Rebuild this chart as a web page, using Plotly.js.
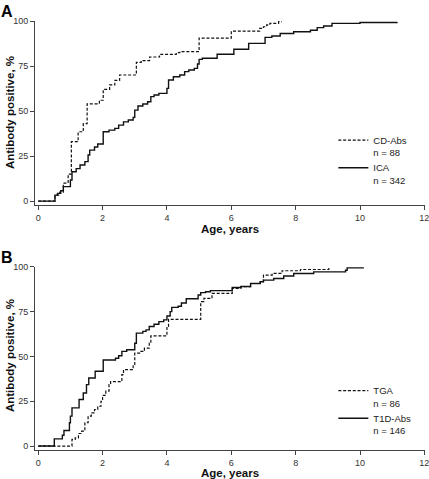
<!DOCTYPE html>
<html>
<head>
<meta charset="utf-8">
<script src="https://cdn.plot.ly/plotly-3.0.1.min.js"></script>
<style>html,body{margin:0;padding:0;background:#fff;}#chart{width:429px;height:479px;}</style>
</head>
<body>
<div id="chart"></div>
<script>
// Panel A: CD-Abs (dashed) vs ICA (solid)
var cdAbsAge = [0, 0.52, 0.67, 0.78, 0.93, 1.03, 1.24, 1.4, 1.52, 1.9, 2.02, 2.22, 2.38, 2.53, 3.05, 3.2, 3.46, 3.77, 4.29, 4.4, 5.0, 6.0, 6.88, 7.0, 7.1, 7.2, 7.47, 7.57];
var cdAbsPos = [0, 3.3, 5, 10, 15, 33, 38.5, 43, 54, 56, 62, 64.5, 67, 70, 77, 78, 80, 81.5, 82.4, 83, 90.5, 94.4, 95.9, 96.8, 97.8, 98.7, 99.6, 99.6];
var icaAge = [0, 0.52, 0.6, 0.7, 0.78, 1.0, 1.05, 1.18, 1.3, 1.45, 1.55, 1.6, 1.75, 1.85, 2.02, 2.2, 2.38, 2.5, 2.65, 2.8, 2.95, 3.0, 3.1, 3.25, 3.4, 3.5, 3.6, 3.75, 4.0, 4.05, 4.2, 4.4, 4.55, 4.68, 4.85, 4.95, 5.0, 5.1, 5.56, 6.08, 6.54, 7.05, 7.26, 7.52, 7.94, 8.46, 8.67, 8.87, 9.13, 10.0, 11.15];
var icaPos = [0, 3.3, 4.3, 5.7, 8, 11.7, 16.3, 18, 20, 21.9, 25.6, 28.3, 30, 31.7, 38.5, 39.4, 40.4, 42.2, 44, 45, 46.5, 50.5, 52.8, 53.9, 55.2, 58, 58.9, 59.8, 62.6, 67.2, 69, 70, 71.9, 72.8, 73.7, 76.1, 78.7, 79.3, 81.5, 84.3, 87.6, 90.9, 91.7, 93.1, 94, 94.9, 96.3, 97.2, 98.7, 99.2, 99.4];

// Panel B: TGA (dashed) vs T1D-Abs (solid)
var tgaAge = [0, 1.05, 1.15, 1.25, 1.35, 1.45, 1.55, 1.65, 1.75, 1.85, 1.95, 2.0, 2.1, 2.2, 2.25, 2.6, 2.65, 2.95, 3.0, 3.15, 3.3, 3.45, 3.5, 4.0, 4.05, 5.05, 5.15, 5.4, 6.03, 6.3, 6.6, 6.9, 7.0, 7.27, 7.58, 8.15, 9.03, 9.05];
var tgaPos = [0, 3.7, 4.6, 7, 8.3, 13, 16.7, 18.5, 20.4, 22.2, 25, 28.3, 30.6, 34.3, 36, 39.8, 42.6, 45.4, 51.9, 52.8, 54.6, 57.4, 61.5, 66.7, 70.7, 80.6, 82.4, 85.2, 88, 88.9, 90.7, 91.7, 95.4, 96.3, 97.8, 98.5, 99.4, 99.4];
var t1dAge = [0, 0.5, 0.75, 0.8, 0.97, 1.0, 1.05, 1.27, 1.4, 1.5, 1.57, 1.77, 2.02, 2.4, 2.5, 2.6, 2.75, 3.0, 3.05, 3.25, 3.35, 3.45, 3.6, 3.75, 3.9, 4.0, 4.1, 4.15, 4.35, 4.45, 4.6, 4.97, 5.05, 5.2, 5.35, 6.03, 6.3, 6.6, 6.9, 7.0, 7.32, 7.63, 7.94, 8.56, 9.55, 9.6, 10.12];
var t1dPos = [0, 4, 6, 8.7, 13, 16.7, 21.3, 26, 29.6, 34.3, 38, 41.7, 48, 49, 50.4, 52.8, 53.7, 57.4, 63, 64, 64.8, 66.7, 68, 69.4, 70.4, 72.6, 75, 77.4, 78, 79.8, 82.2, 84.3, 85.6, 86.1, 86.7, 88.5, 89, 90.7, 91.7, 92.6, 93.5, 94.9, 96.3, 97.2, 98.1, 99.4, 99.4];

var names = ["CD-Abs<br>n = 88", "ICA<br>n = 342", "TGA<br>n = 86", "T1D-Abs<br>n = 146"];
var xTicks = [0, 2, 4, 6, 8, 10, 12];
var yTicks = [0, 25, 50, 75, 100];
var xTitle = "Age, years";
var yTitle = "Antibody positive, %";
var panelLabels = ["A", "B"];

var dashed = {color: '#111', width: 1.2, dash: '3px,1.8px', shape: 'hv'};
var solid = {color: '#111', width: 1.4, shape: 'hv'};

var traces = [
  {x: cdAbsAge, y: cdAbsPos, name: names[0], mode: 'lines', line: dashed, xaxis: 'x', yaxis: 'y', legend: 'legend'},
  {x: icaAge, y: icaPos, name: names[1], mode: 'lines', line: solid, xaxis: 'x', yaxis: 'y', legend: 'legend'},
  {x: tgaAge, y: tgaPos, name: names[2], mode: 'lines', line: dashed, xaxis: 'x2', yaxis: 'y2', legend: 'legend2'},
  {x: t1dAge, y: t1dPos, name: names[3], mode: 'lines', line: solid, xaxis: 'x2', yaxis: 'y2', legend: 'legend2'}
];

var FAM = 'Liberation Sans, Arial, sans-serif';
var tickFont = {family: FAM, size: 9, color: '#333'};
var titleFont = {family: FAM, size: 11.5, color: '#111', weight: 'bold'};

function xAxis(anchor) {
  return {
    anchor: anchor, domain: [0, 1], range: [-0.1, 12.02], tickvals: xTicks, ticktext: xTicks.map(String),
    showgrid: false, zeroline: false, showline: true, linecolor: '#444', linewidth: 1,
    ticks: 'outside', ticklen: 4, tickcolor: '#444', tickfont: tickFont, ticklabeloverflow: 'allow',
    title: {text: '<b>' + xTitle + '</b>', font: titleFont, standoff: 2}, automargin: false
  };
}
function yAxis(anchor, dom) {
  return {
    anchor: anchor, domain: dom, range: [-2.2, 100], tickvals: yTicks, ticktext: yTicks.map(String),
    showgrid: false, zeroline: false, showline: true, linecolor: '#444', linewidth: 1,
    ticks: 'outside', ticklen: 4, tickcolor: '#444', tickfont: tickFont, ticklabelstandoff: 0,
    ticklabeloverflow: 'allow', automargin: false
  };
}

var legFont = {family: FAM, size: 9.5, color: '#222'};
var layout = {
  width: 429, height: 479,
  margin: {l: 35, r: 4, t: 21, b: 29},
  paper_bgcolor: '#fff', plot_bgcolor: '#fff',
  font: {family: FAM},
  xaxis: xAxis('y'),
  yaxis: yAxis('x', [0.571, 1]),
  xaxis2: xAxis('y2'),
  yaxis2: yAxis('x2', [0, 0.427]),
  showlegend: true,
  legend: {x: 0.765, y: 0.752, xanchor: 'left', yanchor: 'top', bgcolor: 'rgba(0,0,0,0)', borderwidth: 0,
           font: legFont, valign: 'top', tracegroupgap: 0, itemwidth: 30},
  legend2: {x: 0.765, y: 0.168, xanchor: 'left', yanchor: 'top', bgcolor: 'rgba(0,0,0,0)', borderwidth: 0,
            font: legFont, valign: 'top', tracegroupgap: 0, itemwidth: 30},
  annotations: [
    {text: '<b>' + panelLabels[0] + '</b>', xref: 'paper', yref: 'paper', x: -0.072, y: 1.046, xanchor: 'center', yanchor: 'top', showarrow: false,
     font: {family: FAM, size: 16, color: '#000'}},
    {text: '<b>' + panelLabels[1] + '</b>', xref: 'paper', yref: 'paper', x: -0.072, y: 0.473, xanchor: 'center', yanchor: 'top', showarrow: false,
     font: {family: FAM, size: 16, color: '#000'}},
    {text: '<b>' + yTitle + '</b>', xref: 'paper', yref: 'paper', x: -0.064, y: 0.7855, xanchor: 'center', yanchor: 'middle',
     textangle: -90, showarrow: false, font: titleFont},
    {text: '<b>' + yTitle + '</b>', xref: 'paper', yref: 'paper', x: -0.064, y: 0.219, xanchor: 'center', yanchor: 'middle',
     textangle: -90, showarrow: false, font: titleFont}
  ]
};

Plotly.newPlot('chart', traces, layout, {displayModeBar: false, staticPlot: true});
</script>
</body>
</html>
